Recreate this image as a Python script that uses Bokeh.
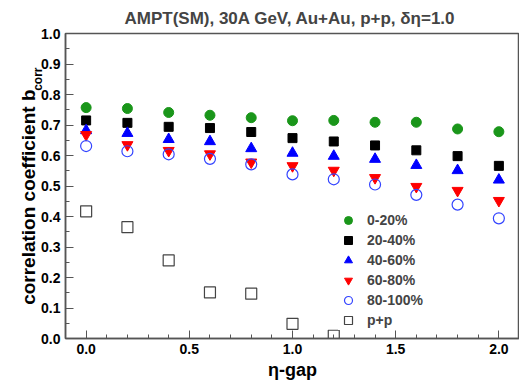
from bokeh.plotting import figure
from bokeh.models import (Range1d, SingleIntervalTicker, PrintfTickFormatter, Title,
                          Legend, LegendItem)
from bokeh.embed import file_html
from bokeh.resources import INLINE

# ---- data ----
eta_gap = [0.0, 0.2, 0.4, 0.6, 0.8, 1.0, 1.2, 1.4, 1.6, 1.8, 2.0]
c0_20 = [0.757, 0.754, 0.741, 0.732, 0.724, 0.714, 0.715, 0.709, 0.709, 0.687, 0.678]
c20_40 = [0.715, 0.707, 0.694, 0.690, 0.677, 0.657, 0.646, 0.633, 0.617, 0.598, 0.566]
c40_60 = [0.682, 0.673, 0.653, 0.646, 0.623, 0.608, 0.598, 0.588, 0.568, 0.551, 0.520]
c60_80 = [0.668, 0.635, 0.616, 0.605, 0.578, 0.566, 0.551, 0.527, 0.498, 0.485, 0.452]
c80_100 = [0.631, 0.614, 0.604, 0.589, 0.571, 0.538, 0.522, 0.505, 0.471, 0.439, 0.394]
pp_gap = [0.0, 0.2, 0.4, 0.6, 0.8, 1.0, 1.2]
pp = [0.417, 0.365, 0.256, 0.151, 0.147, 0.048, 0.009]

FONT = "Liberation Sans"
AX = "#555555"

p = figure(width=519, height=383, output_backend="svg", toolbar_location=None,
           x_range=Range1d(-0.1, 2.1), y_range=Range1d(0.0, 1.0),
           min_border_left=65, min_border_right=0, min_border_top=33, min_border_bottom=45,
           title="AMPT(SM), 30A GeV, Au+Au, p+p,  δη=1.0")
p.title.align = "center"
p.title.text_font = FONT
p.title.text_font_size = "17px"
p.title.text_font_style = "bold"
p.title.vertical_align = "bottom"
p.title.standoff = 12
p.xgrid.visible = False
p.ygrid.visible = False
p.outline_line_color = AX
p.outline_line_width = 1.5
p.background_fill_color = "white"
p.border_fill_color = "white"

for ax in (p.xaxis[0], p.yaxis[0]):
    ax.axis_line_color = AX
    ax.axis_line_width = 1.5
    ax.major_tick_line_color = AX
    ax.minor_tick_line_color = AX
    ax.major_tick_out = 0
    ax.minor_tick_out = 0
    ax.major_label_text_font = FONT
    ax.major_label_text_font_style = "bold"
    ax.major_label_text_font_size = "14px"
    ax.major_label_text_color = "black"

p.xaxis.ticker = SingleIntervalTicker(interval=0.5, num_minor_ticks=5)
p.yaxis.ticker = SingleIntervalTicker(interval=0.1, num_minor_ticks=2)
p.xaxis.formatter = PrintfTickFormatter(format="%.1f")
p.yaxis.formatter = PrintfTickFormatter(format="%.1f")
p.xaxis.major_tick_in = 8
p.xaxis.minor_tick_in = 4
p.yaxis.major_tick_in = 8
p.yaxis.minor_tick_in = 4
p.xaxis.major_label_standoff = 5
p.yaxis.major_label_standoff = 5

p.xaxis.axis_label = "η-gap"
p.xaxis.axis_label_text_font = FONT
p.xaxis.axis_label_text_font_style = "bold"
p.xaxis.axis_label_text_font_size = "18px"
p.xaxis.axis_label_text_color = "black"
p.xaxis.axis_label_standoff = 3

# y label with subscript: inner "corr", outer main text
p.add_layout(Title(text="corr", align="right", offset=34, standoff=-16, vertical_align="top",
                   text_font=FONT, text_font_style="bold", text_font_size="12px",
                   text_color="black"), "left")
p.add_layout(Title(text="correlation coefficient b", align="right", offset=56, standoff=0,
                   vertical_align="bottom",
                   text_font=FONT, text_font_style="bold", text_font_size="19px",
                   text_color="black"), "left")

r1 = p.scatter(eta_gap, c0_20, marker="circle", size=10, fill_color="#1a961a", line_color="#1a961a")
r2 = p.scatter(eta_gap, c20_40, marker="square", size=9, fill_color="black", line_color="black")
r3 = p.scatter(eta_gap, c40_60, marker="triangle", size=11, fill_color="#0000ff", line_color="#0000ff")
r4 = p.scatter(eta_gap, c60_80, marker="inverted_triangle", size=11, fill_color="#ff0000", line_color="#ff0000")
r5 = p.scatter(eta_gap, c80_100, marker="circle", size=11, fill_color=None, line_color="#3344ff", line_width=1.2)
r6 = p.scatter(pp_gap, pp, marker="square", size=11, fill_color=None, line_color="#444444", line_width=1.2)

legend = Legend(items=[
    LegendItem(label="0-20%", renderers=[r1]),
    LegendItem(label="20-40%", renderers=[r2]),
    LegendItem(label="40-60%", renderers=[r3]),
    LegendItem(label="60-80%", renderers=[r4]),
    LegendItem(label="80-100%", renderers=[r5]),
    LegendItem(label="p+p", renderers=[r6]),
], location=(273, 8))
legend.border_line_color = None
legend.background_fill_color = "white"
legend.background_fill_alpha = 1.0
legend.padding = 1
legend.margin = 0
legend.spacing = 0
legend.glyph_width = 20
legend.glyph_height = 20
legend.label_height = 20
legend.label_standoff = 9
legend.label_text_font = FONT
legend.label_text_font_style = "bold"
legend.label_text_font_size = "14px"
p.add_layout(legend)

open("out.html", "w").write(file_html(p, INLINE))
